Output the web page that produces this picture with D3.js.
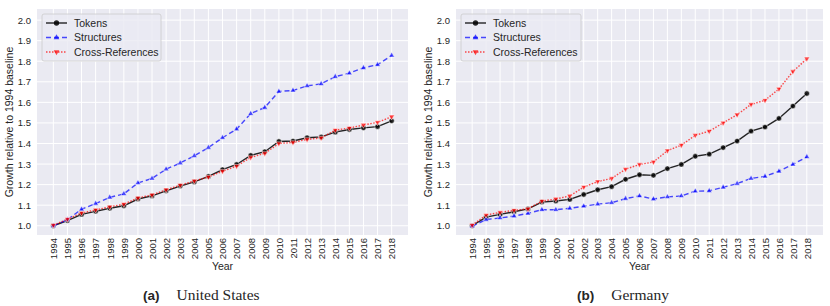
<!DOCTYPE html>
<html>
<head>
<meta charset="utf-8">
<script src="https://cdn.jsdelivr.net/npm/d3@7"></script>
<style>
  body { margin: 0; background: #fff; }
  text { font-family: "Liberation Sans", Arial, sans-serif; fill: #262626; }
</style>
</head>
<body>
<div id="chart"></div>
<script>
// years on the x axis
var years = d3.range(1994, 2019);
var yTicks = [1.0, 1.1, 1.2, 1.3, 1.4, 1.5, 1.6, 1.7, 1.8, 1.9, 2.0];

// United States
var usTokens = [1.0, 1.025, 1.055, 1.07, 1.085, 1.097, 1.13, 1.145, 1.17, 1.193, 1.213, 1.24, 1.273, 1.298, 1.342, 1.36, 1.41, 1.412, 1.428, 1.432, 1.455, 1.468, 1.476, 1.482, 1.51];
var usStructures = [1.0, 1.03, 1.08, 1.108, 1.138, 1.155, 1.208, 1.23, 1.275, 1.305, 1.34, 1.38, 1.428, 1.47, 1.545, 1.575, 1.653, 1.658, 1.68, 1.69, 1.725, 1.742, 1.768, 1.783, 1.828];
var usCrossRefs = [1.003, 1.032, 1.062, 1.077, 1.092, 1.105, 1.135, 1.15, 1.175, 1.197, 1.218, 1.237, 1.265, 1.29, 1.332, 1.352, 1.40, 1.405, 1.42, 1.427, 1.465, 1.475, 1.49, 1.503, 1.53];

// Germany
var deTokens = [1.0, 1.042, 1.055, 1.068, 1.082, 1.115, 1.12, 1.128, 1.152, 1.175, 1.19, 1.226, 1.248, 1.245, 1.278, 1.298, 1.338, 1.348, 1.38, 1.412, 1.46, 1.48, 1.522, 1.582, 1.643];
var deStructures = [0.998, 1.03, 1.038, 1.047, 1.06, 1.078, 1.078, 1.085, 1.095, 1.105, 1.112, 1.132, 1.145, 1.13, 1.14, 1.145, 1.168, 1.17, 1.187, 1.205, 1.23, 1.24, 1.265, 1.298, 1.335];
var deCrossRefs = [1.003, 1.052, 1.065, 1.075, 1.082, 1.12, 1.13, 1.145, 1.188, 1.215, 1.23, 1.275, 1.298, 1.31, 1.365, 1.392, 1.44, 1.46, 1.5, 1.54, 1.59, 1.61, 1.665, 1.75, 1.812];

var seriesNames = ["Tokens", "Structures", "Cross-References"];

// line styles per series
var styles = [
  {color: "#000000", dash: null, marker: d3.symbolCircle, size: 22, opacity: 0.85},
  {color: "#0000ff", dash: "5,3", marker: d3.symbolTriangle, size: 14, opacity: 0.7},
  {color: "#ff0000", dash: "1.5,1.5", marker: d3.symbolTriangle, size: 14, opacity: 0.7, flip: true}
];

var svg = d3.select("#chart").append("svg")
  .attr("width", 830)
  .attr("height", 306);

/**
 * draw one panel
 */
function drawPanel(left, right, data, tag, caption, captionX) {
  var top = 9, bottom = 235;

  var xScale = d3.scaleLinear()
    .domain([1992.84, 2019.16])
    .range([left, right]);
  var yScale = d3.scaleLinear()
    .domain([0.955, 2.054])
    .range([bottom, top]);

  var g = svg.append("g");

  // background
  g.append("rect")
    .attr("x", left).attr("y", top)
    .attr("width", right - left).attr("height", bottom - top)
    .attr("fill", "#eaeaf2");

  // grid
  g.selectAll(".vgrid").data(years).enter().append("line")
    .attr("x1", d => xScale(d)).attr("x2", d => xScale(d))
    .attr("y1", top).attr("y2", bottom)
    .attr("stroke", "#fff").attr("stroke-width", 1);
  g.selectAll(".hgrid").data(yTicks).enter().append("line")
    .attr("x1", left).attr("x2", right)
    .attr("y1", d => yScale(d)).attr("y2", d => yScale(d))
    .attr("stroke", "#fff").attr("stroke-width", 1);

  // axes without tick lines
  var xAxis = d3.axisBottom(xScale).tickValues(years).tickFormat(d3.format("d")).tickSize(0).tickPadding(3);
  var xg = g.append("g").attr("transform", `translate(0,${bottom})`).call(xAxis);
  xg.select(".domain").remove();
  xg.selectAll("text")
    .attr("transform", "rotate(-90)")
    .attr("x", -3).attr("y", 0).attr("dy", "0.35em")
    .style("text-anchor", "end")
    .style("font-size", "9.5px")
    .style("font-family", "Liberation Sans, Arial, sans-serif")
    .attr("fill", "#262626");

  var yAxis = d3.axisLeft(yScale).tickValues(yTicks).tickFormat(d3.format(".1f")).tickSize(0).tickPadding(6);
  var yg = g.append("g").attr("transform", `translate(${left},0)`).call(yAxis);
  yg.select(".domain").remove();
  yg.selectAll("text")
    .style("font-size", "9.5px")
    .style("font-family", "Liberation Sans, Arial, sans-serif")
    .attr("fill", "#262626");

  // axis labels
  g.append("text")
    .attr("x", (left + right) / 2).attr("y", 270)
    .attr("text-anchor", "middle")
    .style("font-size", "10.5px")
    .text("Year");
  g.append("text")
    .attr("transform", `translate(${left - 24},${(top + bottom) / 2}) rotate(-90)`)
    .attr("text-anchor", "middle")
    .style("font-size", "10.5px")
    .text("Growth relative to 1994 baseline");

  // lines
  var line = d3.line().x((d, i) => xScale(years[i])).y(d => yScale(d));
  data.forEach((vals, k) => {
    var s = styles[k];
    g.append("path")
      .datum(vals)
      .attr("d", line)
      .attr("fill", "none")
      .attr("stroke", s.color)
      .attr("stroke-opacity", s.opacity)
      .attr("stroke-width", 1.4)
      .attr("stroke-dasharray", s.dash);
    g.selectAll(".m" + k).data(vals).enter().append("path")
      .attr("d", d3.symbol().type(s.marker).size(s.size))
      .attr("transform", (d, i) => `translate(${xScale(years[i])},${yScale(d)})` + (s.flip ? " rotate(180)" : ""))
      .attr("fill", s.color)
      .attr("fill-opacity", s.opacity)
      .attr("stroke", "#fff")
      .attr("stroke-width", 0.5);
  });

  // legend
  var lg = g.append("g").attr("transform", `translate(${left + 5},14)`);
  lg.append("rect")
    .attr("width", tag === "(a)" ? 119 : 120).attr("height", 47)
    .attr("rx", 2)
    .attr("fill", "#eaeaf2").attr("fill-opacity", 0.8)
    .attr("stroke", "#cccccc").attr("stroke-width", 0.8);
  seriesNames.forEach((name, k) => {
    var s = styles[k];
    var yy = 9 + k * 14.5;
    lg.append("line")
      .attr("x1", 4).attr("x2", 25).attr("y1", yy).attr("y2", yy)
      .attr("stroke", s.color).attr("stroke-opacity", s.opacity)
      .attr("stroke-width", 1.4).attr("stroke-dasharray", s.dash);
    lg.append("path")
      .attr("d", d3.symbol().type(s.marker).size(s.size))
      .attr("transform", `translate(14.5,${yy})` + (s.flip ? " rotate(180)" : ""))
      .attr("fill", s.color).attr("fill-opacity", s.opacity);
    lg.append("text")
      .attr("x", 32).attr("y", yy).attr("dy", "0.35em")
      .style("font-size", "10.5px")
      .text(name);
  });

  // caption
  var cap = svg.append("text").attr("x", captionX).attr("y", 300);
  cap.append("tspan")
    .style("font-weight", "bold").style("font-size", "13.5px")
    .text(tag);
  cap.append("tspan")
    .attr("dx", 17)
    .style("font-family", "Liberation Serif, Times New Roman, serif")
    .style("font-size", "15.5px")
    .text(caption);
}

drawPanel(37, 408, [usTokens, usStructures, usCrossRefs], "(a)", "United States", 143);
drawPanel(456, 823, [deTokens, deStructures, deCrossRefs], "(b)", "Germany", 577);
</script>
</body>
</html>
